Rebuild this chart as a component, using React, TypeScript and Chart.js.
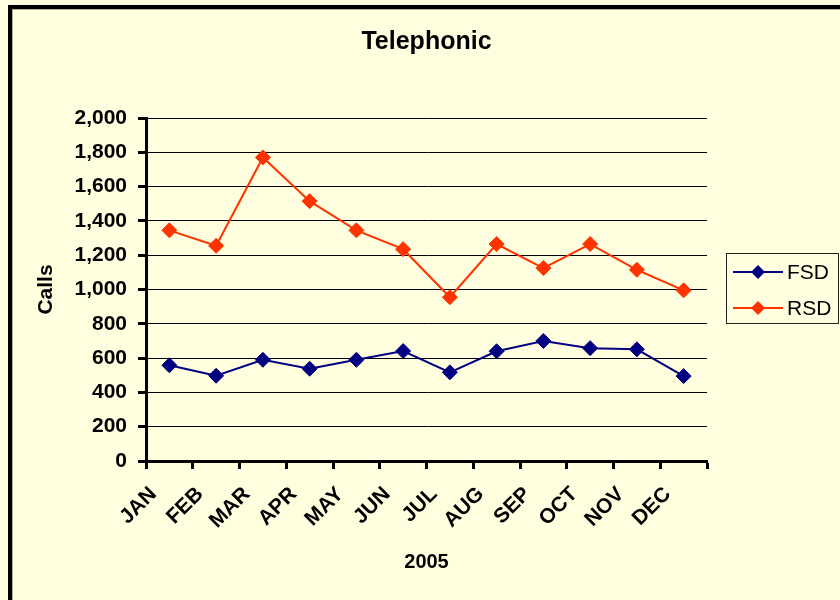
import React, { useEffect, useRef } from "react";
import { Chart, registerables } from "chart.js";

Chart.register(...registerables);

const months = ["JAN", "FEB", "MAR", "APR", "MAY", "JUN", "JUL", "AUG", "SEP", "OCT", "NOV", "DEC"];
const fsd = [558, 497, 590, 538, 590, 641, 517, 640, 700, 658, 651, 495];
const rsd = [1345, 1255, 1770, 1515, 1345, 1235, 955, 1265, 1125, 1265, 1115, 995];
const seriesNames = ["FSD", "RSD"];
const seriesColors = ["#000080", "#FF3300"];
const yTicks = [0, 200, 400, 600, 800, 1000, 1200, 1400, 1600, 1800, 2000];

const FONT = "'Liberation Sans', Arial, sans-serif";
const BG = "#FFFFE0";

const framePlugin = {
  id: "frame",
  beforeDraw(chart: any) {
    const { ctx, width, height } = chart;
    ctx.save();
    ctx.fillStyle = BG;
    ctx.fillRect(0, 0, width, height);
    ctx.strokeStyle = "#000";
    ctx.lineWidth = 4;
    ctx.strokeRect(10, 7, width + 40, height + 40);
    ctx.strokeStyle = "rgba(120,120,90,0.6)";
    ctx.lineWidth = 1;
    ctx.strokeRect(12.5, 9.5, width + 40, height + 40);
    ctx.restore();
  },
};

const legendPlugin = {
  id: "boxLegend",
  afterDraw(chart: any) {
    const { ctx } = chart;
    const x0 = 726;
    const y0 = 253;
    const w = 112;
    const h = 70;
    ctx.save();
    ctx.strokeStyle = "#222";
    ctx.lineWidth = 1;
    ctx.strokeRect(x0 + 0.5, y0 + 0.5, w, h);
    chart.data.datasets.forEach((ds: any, i: number) => {
      const cy = y0 + 19 + i * 36;
      ctx.strokeStyle = ds.borderColor;
      ctx.lineWidth = 2;
      ctx.beginPath();
      ctx.moveTo(x0 + 7, cy);
      ctx.lineTo(x0 + 57, cy);
      ctx.stroke();
      ctx.fillStyle = ds.backgroundColor;
      ctx.beginPath();
      const r = 7;
      const cx = x0 + 32;
      ctx.moveTo(cx - r, cy);
      ctx.lineTo(cx, cy - r);
      ctx.lineTo(cx + r, cy);
      ctx.lineTo(cx, cy + r);
      ctx.closePath();
      ctx.fill();
      ctx.fillStyle = "#000";
      ctx.font = `21px ${FONT}`;
      ctx.textBaseline = "middle";
      ctx.textAlign = "left";
      ctx.fillText(ds.label, x0 + 61, cy + 1);
    });
    ctx.restore();
  },
};

export default function App() {
  const ref = useRef<HTMLCanvasElement>(null);

  useEffect(() => {
    if (!ref.current) return;
    const chart = new Chart(ref.current, {
      type: "line",
      data: {
        labels: months,
        datasets: [fsd, rsd].map((d, i) => ({
          label: seriesNames[i],
          data: d,
          borderColor: seriesColors[i],
          backgroundColor: seriesColors[i],
          pointBackgroundColor: seriesColors[i],
          pointBorderColor: seriesColors[i],
          borderWidth: 2,
          pointStyle: "rectRot",
          pointRadius: 7.5,
          pointBorderWidth: 1,
          tension: 0,
        })),
      },
      options: {
        responsive: false,
        animation: false,
        events: [],
        layout: { padding: { left: 0, right: 133, top: 0, bottom: 0 } },
        plugins: {
          legend: { display: false },
          tooltip: { enabled: false },
          title: {
            display: true,
            text: "Telephonic",
            fullSize: false,
            color: "#000",
            font: { family: FONT, size: 25, weight: "bold", lineHeight: 1.2 },
            padding: { top: 27, bottom: 61 },
          },
        },
        scales: {
          x: {
            type: "category",
            offset: true,
            afterFit: (s: any) => {
              s.height = 139;
            },
            grid: {
              offset: true,
              drawOnChartArea: false,
              drawTicks: true,
              tickLength: 8,
              tickWidth: 3,
              tickColor: "#000",
            },
            border: { display: true, color: "#000", width: 3 },
            ticks: {
              color: "#000",
              font: { family: FONT, size: 21, weight: "bold" },
              minRotation: 45,
              maxRotation: 45,
              autoSkip: false,
              labelOffset: -16,
              padding: 13,
            },
            title: {
              display: true,
              text: "2005",
              color: "#000",
              font: { family: FONT, size: 20, weight: "bold", lineHeight: 1.2 },
              padding: { top: 0, bottom: 26 },
            },
          },
          y: {
            min: 0,
            max: 2000,
            afterFit: (s: any) => {
              s.width = 146;
            },
            afterBuildTicks: (s: any) => {
              s.ticks = yTicks.map((v) => ({ value: v }));
            },
            grid: {
              color: "#000",
              lineWidth: 1,
              drawTicks: true,
              tickLength: 8,
              tickWidth: 3,
              tickColor: "#000",
            },
            border: { display: true, color: "#000", width: 3 },
            ticks: {
              color: "#000",
              font: { family: FONT, size: 21, weight: "bold" },
              padding: 11,
              callback: (v: any) => Number(v).toLocaleString("en-US"),
            },
            title: {
              display: true,
              text: "Calls",
              color: "#000",
              font: { family: FONT, size: 21, weight: "bold", lineHeight: 1.2 },
              padding: { top: 34, bottom: 0 },
            },
          },
        },
      },
      plugins: [framePlugin, legendPlugin],
    } as any);
    return () => chart.destroy();
  }, []);

  return (
    <div style={{ position: "absolute", left: 0, top: 0, width: 840, height: 600, background: BG }}>
      <canvas ref={ref} width={840} height={600} style={{ display: "block" }} />
    </div>
  );
}
